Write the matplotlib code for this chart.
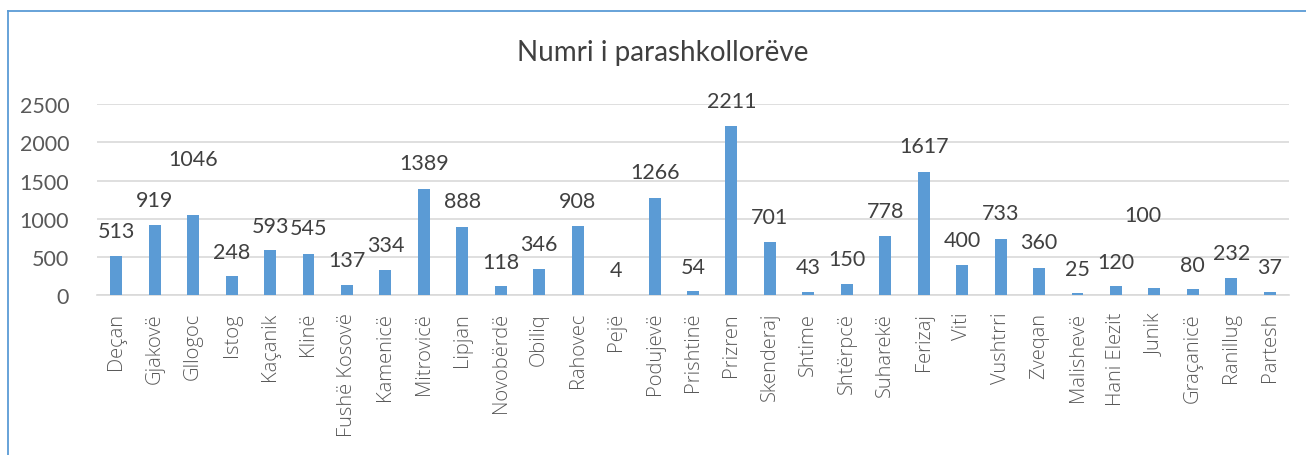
import matplotlib
matplotlib.use("Agg")
import matplotlib.pyplot as plt
from matplotlib.lines import Line2D
import numpy as np

categories = ["Deçan", "Gjakovë", "Gllogoc", "Istog", "Kaçanik", "Klinë", "Fushë Kosovë",
              "Kamenicë", "Mitrovicë", "Lipjan", "Novobërdë", "Obiliq", "Rahovec", "Pejë",
              "Podujevë", "Prishtinë", "Prizren", "Skenderaj", "Shtime", "Shtërpcë",
              "Suharekë", "Ferizaj", "Viti", "Vushtrri", "Zveqan", "Malishevë",
              "Hani Elezit", "Junik", "Graçanicë", "Ranillug", "Partesh"]
values = [513, 919, 1046, 248, 593, 545, 137, 334, 1389, 888, 118, 346, 908, 4,
          1266, 54, 2211, 701, 43, 150, 778, 1617, 400, 733, 360, 25, 120, 100,
          80, 232, 37]
# vertical positions (data units) where the data labels sit in the original
label_pos = [844, 1246, 1781, 570, 910, 876, 465, 657, 1725, 1229, 439, 670, 1236, 331,
             1608, 374, 2543, 1019, 374, 474, 1106, 1955, 727, 1072, 693, 344, 431, 1049,
             400, 553, 366]
label_dx = [0.0] * len(values)
label_dx[27] = -0.29
yticks = [0, 500, 1000, 1500, 2000, 2500]
title = "Numri i parashkollorëve"

W, H = 1306, 456
fig = plt.figure(figsize=(W / 100, H / 100), dpi=100)
ax = fig.add_axes([97 / W, 1 - 296.3 / H, (1289 - 97) / W, (296.3 - 105) / H])

x = np.arange(len(categories))
ax.bar(x, values, width=0.31, color="#5B9BD5", zorder=3)
ax.set_xlim(-0.5, len(categories) - 0.5)
ax.set_ylim(0, 2500)
ax.set_yticks(yticks)
ax.set_yticklabels([str(t) for t in yticks])
ax.set_xticks(x)
ax.set_xticklabels(categories, rotation=90)
ax.tick_params(length=0)
ax.tick_params(axis="y", pad=20, labelsize=15.5, labelcolor="#595959")
ax.tick_params(axis="x", pad=12, labelsize=14.5, labelcolor="#595959")
for lab in ax.get_yticklabels():
    lab.set_fontfamily("Lato")
for lab in ax.get_xticklabels():
    lab.set_fontfamily("Open Sans")
    lab.set_fontweight("light")
ax.grid(axis="y", color="#D9D9D9", lw=1.2, zorder=0)
for s in ["top", "right", "left"]:
    ax.spines[s].set_visible(False)
ax.spines["bottom"].set_color("#D9D9D9")
ax.spines["bottom"].set_linewidth(1.2)

for xi, v, ly, dx in zip(x, values, label_pos, label_dx):
    ax.text(xi + dx, ly, str(v), ha="center", va="center", fontsize=15.5,
            color="#404040", family="Lato", clip_on=False)

fig.text(663 / W, 1 - 53 / H, title, ha="center", va="center", fontsize=20,
         color="#404040", family="Lato")

# chart frame (left and top edges visible)
fig.add_artist(Line2D([8 / W, 8 / W], [0, 1 - 12 / H], transform=fig.transFigure,
                      color="#5B9BD5", lw=1.3))
fig.add_artist(Line2D([8 / W, 1], [1 - 12 / H, 1 - 12 / H], transform=fig.transFigure,
                      color="#5B9BD5", lw=1.3))

fig.savefig("out.png", dpi=100, facecolor="white")
